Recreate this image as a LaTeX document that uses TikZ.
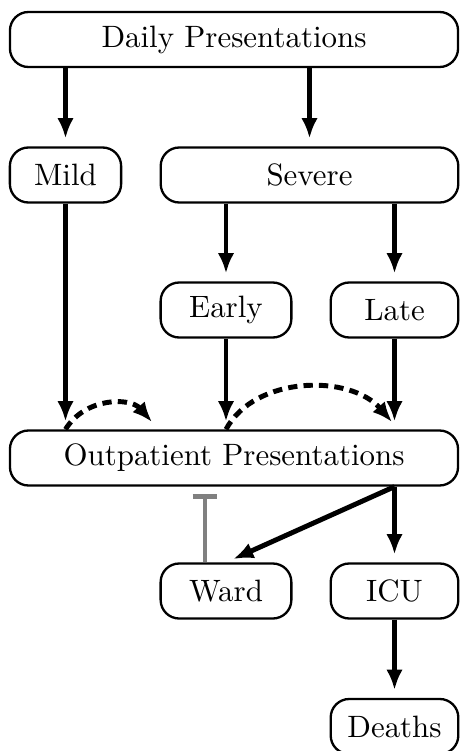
\documentclass[tikz,border=0pt]{standalone}
\usetikzlibrary{arrows.meta}
\definecolor{inhibgray}{RGB}{128,128,128}
\tikzset{
  box/.style={draw, line width=0.75pt, rounded corners=6pt, inner sep=0pt,
    minimum height=17.8pt, align=center, font=\fontsize{10}{12}\selectfont},
  arr/.style={line width=1.6pt, -{Latex[length=6.5pt,width=5.3pt]}, shorten >=2.6pt},
  dasharr/.style={line width=1.6pt, densely dashed, -{Latex[length=6.5pt,width=5.3pt]}},
  inhib/.style={line width=1.6pt, draw=inhibgray, -{Bar[width=8pt]}}
}
\begin{document}
\begin{tikzpicture}[x=0.3236pt, y=-0.3236pt]
\useasboundingbox (0,0) rectangle (461,751);
\node[box, minimum width=145pt]  (daily)  at (234,39.5)  {Daily Presentations};
\node[box, minimum width=36pt]   (mild)   at (65.5,175)  {Mild};
\node[box, minimum width=96.3pt] (severe) at (309.5,175) {Severe};
\node[box, minimum width=42.3pt] (early)  at (226,310)   {Early};
\node[box, minimum width=41.3pt] (late)   at (394.5,310) {Late};
\node[box, minimum width=145pt]  (out)    at (234,458)   {Outpatient Presentations};
\node[box, minimum width=42.3pt] (ward)   at (226,591)   {Ward};
\node[box, minimum width=41.3pt] (icu)    at (394.5,591) {ICU};
\node[box, minimum width=41.3pt] (deaths) at (394.5,726.5) {Deaths};

\coordinate (d1e) at (152,422);
\coordinate (d2e) at (392,422);
\coordinate (tb)  at (205,494);

\draw[arr] (mild.north |- daily.south) -- (mild.north);
\draw[arr] (severe.north |- daily.south) -- (severe.north);
\draw[arr] (early.north |- severe.south) -- (early.north);
\draw[arr] (late.north |- severe.south) -- (late.north);
\draw[arr] (mild.south) -- (out.north -| mild);
\draw[arr] (early.south) -- (out.north -| early);
\draw[arr] (late.south) -- (out.north -| late);
\draw[arr] (out.south -| icu) -- (icu.north);
\draw[arr] (out.south -| icu) -- (ward.north);
\draw[arr] (icu.south) -- (deaths.north);

\draw[dasharr] (out.north -| mild) .. controls +(19.5,-32) and +(-22,-25) .. (d1e);
\draw[dasharr] (out.north -| early) .. controls +(29,-54) and +(-42,-48) .. (d2e);

\draw[inhib] (ward.north -| tb) -- (tb);
\end{tikzpicture}
\end{document}
